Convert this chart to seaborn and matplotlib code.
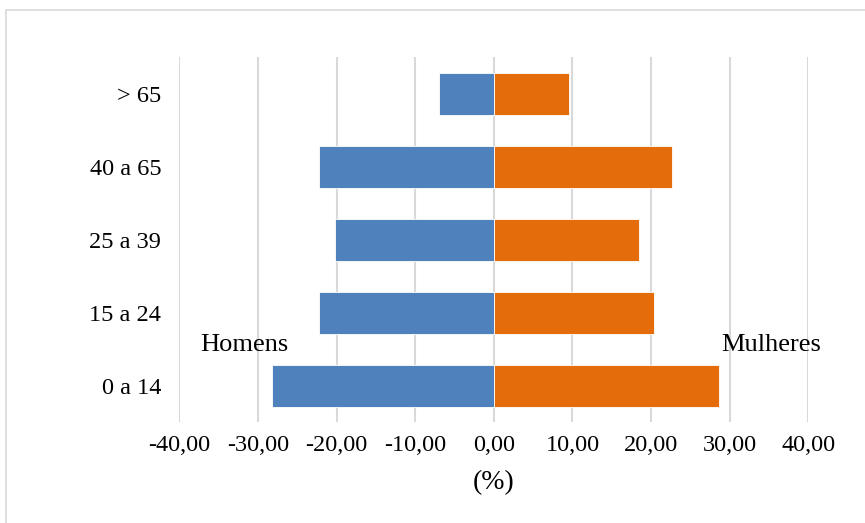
import pandas as pd
import numpy as np
import seaborn as sns
from matplotlib import pyplot as plt
from matplotlib.patches import Rectangle

age_groups = ["> 65", "40 a 65", "25 a 39", "15 a 24", "0 a 14"]
homens = [-7.0, -22.2, -20.2, -22.2, -28.2]
mulheres = [9.6, 22.6, 18.5, 20.4, 28.7]
x_ticks = [-40, -30, -20, -10, 0, 10, 20, 30, 40]

df = pd.DataFrame({
    "grupo": age_groups * 2,
    "sexo": ["Homens"] * len(age_groups) + ["Mulheres"] * len(age_groups),
    "valor": homens + mulheres,
})

sns.set_theme(style="white")
plt.rcParams["font.family"] = ["Liberation Serif", "DejaVu Serif"]
plt.rcParams["text.color"] = "black"
plt.rcParams["xtick.color"] = "black"
plt.rcParams["ytick.color"] = "black"
plt.rcParams["axes.labelcolor"] = "black"

fig = plt.figure(figsize=(8.65, 5.23), dpi=100)
ax = fig.add_axes([0.2073, 0.1922, 0.7272, 0.698])

sns.barplot(df, x="valor", y="grupo", hue="sexo", order=age_groups,
            palette={"Homens": "#4F81BD", "Mulheres": "#E46C0A"},
            saturation=1, dodge=False, width=0.58, errorbar=None,
            legend=False, ax=ax, edgecolor="#FFFFFF", linewidth=0.6, zorder=3)

ax.set_xlim(-40, 40)
ax.set_xticks(x_ticks)
ax.set_xticklabels([f"{v:.2f}".replace(".", ",") for v in x_ticks], fontsize=17.5)
ax.tick_params(axis="y", labelsize=17.5, length=0, pad=13)
ax.tick_params(axis="x", length=0, pad=9)
ax.grid(axis="x", color="#d9d9d9", linewidth=1.5, zorder=0)
ax.set_axisbelow(True)
for s in ax.spines.values():
    s.set_visible(False)

ax.set_xlabel("(%)", fontsize=20, labelpad=10)
ax.set_ylabel("")

ax.text(-37.4, 3.44, "Homens", fontsize=19, va="center", ha="left")
ax.text(28.9, 3.44, "Mulheres", fontsize=19, va="center", ha="left")

fig.patches.append(Rectangle((6 / 865, -0.1), 1.0, 1 - 10 / 523 + 0.1,
                             transform=fig.transFigure, fill=False,
                             edgecolor="#d9d9d9", linewidth=1.2))

fig.savefig("out.png", dpi=100)
